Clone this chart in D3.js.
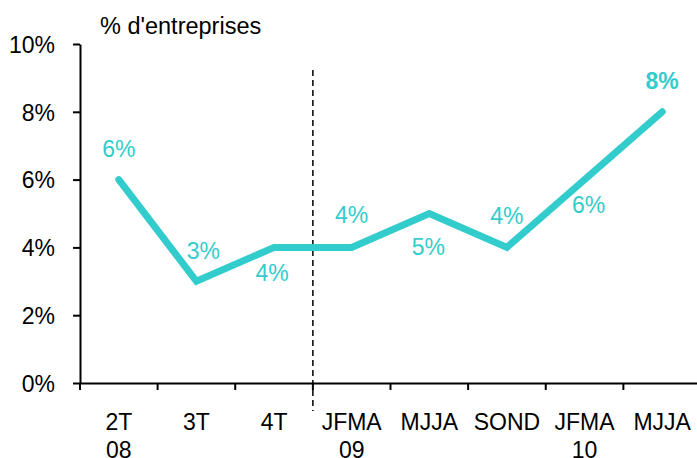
<!DOCTYPE html>
<meta charset="utf-8">
<head>
  <style>
    body { margin: 0; background: #fff; }
    svg text { font-family: "Liberation Sans", Arial, Helvetica, sans-serif; }
    .axis path, .axis line { stroke: #000; stroke-width: 2; }
    .axis text { font-size: 23px; fill: #000; }
    .lbl { font-size: 23px; fill: #33cccc; text-anchor: middle; }
  </style>
</head>
<body>
  <div class="chart"></div>
  <script src="https://d3js.org/d3.v7.min.js"></script>
  <script>
    // data
    var categories = ["2T\n08", "3T", "4T", "JFMA\n09", "MJJA", "SOND", "JFMA\n10", "MJJA "];
    var values = [6, 3, 4, 4, 5, 4, 6, 8];
    var yTicks = [0, 2, 4, 6, 8, 10];
    // label placement (layout only): offsets of each value label from its point
    var labelDx = [0, 7, -2, 0, -1, 0, 4, 0];
    var labelDy = [-31, -31, 25, -33, 33, -32, 25, -31];

    var width = 697, height = 458;
    var mLeft = 80, mRight = 701, mTop = 44, mBottom = 383;

    var svg = d3.select(".chart").append("svg")
        .attr("width", width)
        .attr("height", height);

    var x = d3.scaleBand()
        .domain(categories)
        .range([mLeft, mRight])
        .padding(0);

    var y = d3.scaleLinear()
        .domain([0, 10])
        .range([mBottom, mTop]);

    // y axis
    svg.append("g")
        .attr("class", "y axis")
        .attr("transform", "translate(" + mLeft + ",0)")
        .call(d3.axisLeft(y).tickValues(yTicks).tickSizeInner(7).tickSizeOuter(0).tickPadding(18)
          .tickFormat(function(d) { return d + "%"; }))
        .call(function(g) { g.selectAll("text").attr("dy", "0.36em"); });

    // x axis, labels centered in band, ticks on band boundaries
    var xg = svg.append("g")
        .attr("class", "x axis")
        .attr("transform", "translate(0," + mBottom + ")")
        .call(d3.axisBottom(x).tickSize(0).tickSizeOuter(0).tickPadding(0));

    xg.selectAll(".tick text").each(function(d) {
      var t = d3.select(this).text(null).attr("y", 0).attr("dy", null);
      d.trim().split("\n").forEach(function(s, i) {
        t.append("tspan").attr("x", 0).attr("y", 47 + i * 28).text(s);
      });
    });

    xg.selectAll(".bound")
        .data(categories)
      .enter().append("line")
        .attr("class", "bound")
        .attr("x1", function(d) { return x(d); })
        .attr("x2", function(d) { return x(d); })
        .attr("y1", 0)
        .attr("y2", 7);

    // dashed separator between 2008 and 2009
    svg.append("line")
        .attr("x1", x(categories[3]))
        .attr("x2", x(categories[3]))
        .attr("y1", 70)
        .attr("y2", 411)
        .attr("stroke", "#000")
        .attr("stroke-width", 1.5)
        .attr("stroke-dasharray", "6,4");

    // title
    svg.append("text")
        .attr("x", 100)
        .attr("y", 34)
        .style("font-size", "23.5px")
        .text("% d'entreprises");

    var cx = function(i) { return x(categories[i]) + x.bandwidth() / 2; };

    var line = d3.line()
        .x(function(d, i) { return cx(i); })
        .y(function(d) { return y(d); });

    svg.append("path")
        .datum(values)
        .attr("d", line)
        .attr("fill", "none")
        .attr("stroke", "#33cccc")
        .attr("stroke-width", 7)
        .attr("stroke-linejoin", "miter")
        .attr("stroke-linecap", "round");

    svg.selectAll(".lbl")
        .data(values)
      .enter().append("text")
        .attr("class", "lbl")
        .attr("x", function(d, i) { return cx(i) + labelDx[i]; })
        .attr("y", function(d, i) { return y(d) + labelDy[i]; })
        .attr("dy", "0.36em")
        .style("font-weight", function(d, i) { return i === values.length - 1 ? "bold" : "normal"; })
        .text(function(d) { return d + "%"; });
  </script>
</body>
